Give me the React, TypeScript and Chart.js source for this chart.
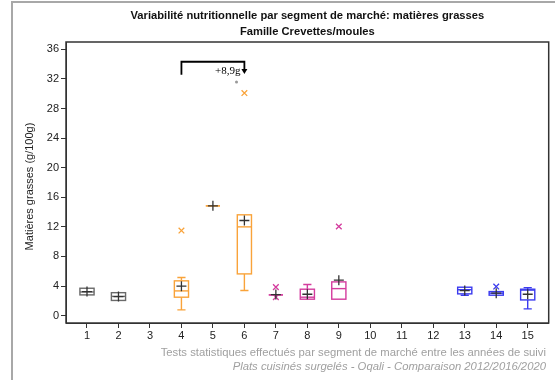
import React, { useEffect, useRef } from "react";
import { Chart, registerables } from "chart.js";

Chart.register(...registerables);

// ---- data ----
const tickCategories = [1, 2, 3, 4, 5, 6, 7, 8, 9, 10, 11, 12, 13, 14, 15];
const yTicks = [0, 4, 8, 12, 16, 20, 24, 28, 32, 36];

const boxCategories = [1, 2, 4, 5, 6, 7, 8, 9, 13, 14, 15];
const boxQ1 = [2.8, 2.05, 2.49, 14.84, 5.64, 2.8, 2.22, 2.22, 2.94, 2.76, 2.12];
const boxMedian = [3.2, 2.6, 3.34, 14.84, 12.0, 2.8, 2.49, 3.65, 3.5, 3.03, 3.45];
const boxQ3 = [3.7, 3.1, 4.7, 14.84, 13.63, 2.8, 3.57, 4.56, 3.84, 3.25, 3.57];
const whiskerLow = [2.8, 2.05, 0.77, 14.84, 3.39, 2.8, 2.22, 2.22, 2.76, 2.76, 0.91];
const whiskerHigh = [3.7, 3.1, 5.15, 14.84, 13.63, 2.8, 4.2, 4.56, 3.84, 3.25, 3.79];
const boxMeans = [3.25, 2.57, 3.98, 14.84, 12.86, 2.85, 2.89, 4.79, 3.39, 3.03, 2.89];
const boxGroup = [0, 0, 1, 1, 1, 2, 2, 2, 3, 3, 3];

const outlierCategories = [4, 6, 7, 7, 9, 14];
const outlierValues = [11.5, 30.1, 3.85, 2.5, 12.05, 3.93];
const outlierGroup = [1, 1, 2, 2, 2, 3];

const groupColors = ["#6a6a6a", "#F9A33A", "#D43C9E", "#3B3BEF"];

const bracketFrom = 4;
const bracketTo = 6;
const bracketTop = 34.33;
const bracketLeftEnd = 32.57;
const bracketRightEnd = 32.67;
const bracketLabel = "+8,9g";
const dotCategory = [5.75];
const dotValue = [31.58];

const titleLines = [
  "Variabilité nutritionnelle par segment de marché: matières grasses",
  "Famille Crevettes/moules",
];
const yTitle = "Matières grasses (g/100g)";
const footerLines = [
  "Tests statistiques effectués par segment de marché entre les années de suivi",
  "Plats cuisinés surgelés - Oqali - Comparaison 2012/2016/2020",
];

const BOX_W = 0.45;
const CAP_W = 0.26;
const FONT = '"Liberation Sans", Arial, sans-serif';

const drawPlugin = {
  id: "boxesAndText",
  beforeDraw(chart: any) {
    const ctx = chart.ctx;
    ctx.save();
    ctx.fillStyle = "#ffffff";
    ctx.fillRect(0, 0, chart.width, chart.height);
    // outer frame
    ctx.fillStyle = "#a8a8a8";
    ctx.fillRect(11, 1, 2, chart.height);
    ctx.fillRect(11, 1, chart.width, 2);
    ctx.restore();
  },
  beforeDatasetsDraw(chart: any) {
    const { ctx, chartArea } = chart;
    const x = chart.scales.x;
    const y = chart.scales.y;
    ctx.save();
    ctx.lineWidth = 1.4;
    for (let i = 0; i < boxCategories.length; i++) {
      const c = boxCategories[i];
      const col = groupColors[boxGroup[i]];
      const cx = x.getPixelForValue(c);
      const l = x.getPixelForValue(c - BOX_W / 2);
      const r = x.getPixelForValue(c + BOX_W / 2);
      const cl = x.getPixelForValue(c - CAP_W / 2);
      const cr = x.getPixelForValue(c + CAP_W / 2);
      const pq1 = y.getPixelForValue(boxQ1[i]);
      const pq3 = y.getPixelForValue(boxQ3[i]);
      const pm = y.getPixelForValue(boxMedian[i]);
      const pwl = y.getPixelForValue(whiskerLow[i]);
      const pwh = y.getPixelForValue(whiskerHigh[i]);
      ctx.strokeStyle = col;
      ctx.beginPath();
      if (whiskerHigh[i] > boxQ3[i]) {
        ctx.moveTo(cx, pq3);
        ctx.lineTo(cx, pwh);
        ctx.moveTo(cl, pwh);
        ctx.lineTo(cr, pwh);
      }
      if (whiskerLow[i] < boxQ1[i]) {
        ctx.moveTo(cx, pq1);
        ctx.lineTo(cx, pwl);
        ctx.moveTo(cl, pwl);
        ctx.lineTo(cr, pwl);
      }
      ctx.stroke();
      ctx.strokeRect(l, pq3, r - l, pq1 - pq3);
      ctx.beginPath();
      ctx.moveTo(l, pm);
      ctx.lineTo(r, pm);
      ctx.stroke();
    }
    // bracket annotation
    const bx1 = x.getPixelForValue(bracketFrom);
    const bx2 = x.getPixelForValue(bracketTo);
    const bt = y.getPixelForValue(bracketTop);
    const bl = y.getPixelForValue(bracketLeftEnd);
    const br = y.getPixelForValue(bracketRightEnd);
    ctx.strokeStyle = "#000";
    ctx.lineWidth = 1.8;
    ctx.beginPath();
    ctx.moveTo(bx1, bl);
    ctx.lineTo(bx1, bt);
    ctx.lineTo(bx2, bt);
    ctx.lineTo(bx2, br - 4);
    ctx.stroke();
    ctx.fillStyle = "#000";
    ctx.beginPath();
    ctx.moveTo(bx2 - 3, br - 5);
    ctx.lineTo(bx2 + 3, br - 5);
    ctx.lineTo(bx2, br);
    ctx.closePath();
    ctx.fill();
    ctx.font = '11px "Liberation Serif", "DejaVu Serif", serif';
    ctx.textAlign = "right";
    ctx.textBaseline = "middle";
    ctx.fillStyle = "#000";
    ctx.fillText(bracketLabel, bx2 - 4, br - 3);
    // plot frame
    ctx.strokeStyle = "#333";
    ctx.lineWidth = 1.5;
    ctx.strokeRect(chartArea.left, chartArea.top, chartArea.right - chartArea.left, chartArea.bottom - chartArea.top);
    ctx.restore();
  },
  afterDraw(chart: any) {
    const { ctx, chartArea } = chart;
    ctx.save();
    const cxm = (chartArea.left + chartArea.right) / 2;
    ctx.fillStyle = "#111";
    ctx.textAlign = "center";
    ctx.textBaseline = "middle";
    ctx.font = `bold 11.2px ${FONT}`;
    ctx.fillText(titleLines[0], cxm, 16);
    ctx.fillText(titleLines[1], cxm, 32);
    // y title
    ctx.save();
    ctx.translate(30, (chartArea.top + chartArea.bottom) / 2 + 4);
    ctx.rotate(-Math.PI / 2);
    ctx.font = `11px ${FONT}`;
    ctx.fillStyle = "#222";
    ctx.fillText(yTitle, 0, 0);
    ctx.restore();
    // footer
    ctx.textAlign = "right";
    ctx.fillStyle = "#a0a0a0";
    ctx.font = `11.3px ${FONT}`;
    ctx.fillText(footerLines[0], 546, 353);
    ctx.font = `italic 11.3px ${FONT}`;
    ctx.fillText(footerLines[1], 546, 367);
    ctx.restore();
  },
};

export default function App() {
  const ref = useRef<HTMLCanvasElement>(null);
  useEffect(() => {
    document.body.style.margin = "0";
    const canvas = ref.current!;
    const chart = new Chart(canvas, {
      type: "scatter",
      data: {
        datasets: [
          {
            label: "moyenne",
            data: boxCategories.map((c, i) => ({ x: c, y: boxMeans[i] })),
            pointStyle: "cross",
            pointRadius: 5,
            pointBorderColor: "#333",
            pointBorderWidth: 1.3,
            showLine: false,
          },
          {
            label: "outliers",
            data: outlierCategories.map((c, i) => ({ x: c, y: outlierValues[i] })),
            pointStyle: "crossRot",
            pointRadius: 4,
            pointBorderColor: outlierGroup.map((g) => groupColors[g]),
            pointBorderWidth: 1.3,
            showLine: false,
          },
          {
            label: "dot",
            data: dotCategory.map((c, i) => ({ x: c, y: dotValue[i] })),
            pointStyle: "circle",
            pointRadius: 1.5,
            pointBackgroundColor: "#999",
            pointBorderColor: "#999",
            pointBorderWidth: 0,
          },
        ],
      },
      options: {
        responsive: false,
        animation: false,
        devicePixelRatio: 1,
        layout: { padding: { left: 0, top: 42, right: 6, bottom: 0 } },
        plugins: {
          legend: { display: false },
          tooltip: { enabled: false },
          title: { display: false },
        },
        scales: {
          x: {
            type: "linear",
            min: 0.333,
            max: 15.667,
            afterBuildTicks: (s: any) => {
              s.ticks = tickCategories.map((v) => ({ value: v }));
            },
            afterFit: (s: any) => {
              s.height = 57;
            },
            ticks: {
              autoSkip: false,
              maxRotation: 0,
              padding: 1,
              color: "#222",
              font: { family: FONT, size: 11 },
              callback: (v: any) => String(v),
            },
            grid: { drawOnChartArea: false, drawTicks: true, tickLength: 5, color: "#333" },
            border: { display: true, color: "#333" },
          },
          y: {
            type: "linear",
            min: -1,
            max: 37,
            afterBuildTicks: (s: any) => {
              s.ticks = yTicks.map((v) => ({ value: v }));
            },
            afterFit: (s: any) => {
              s.width = 66;
            },
            ticks: {
              padding: 2,
              color: "#222",
              font: { family: FONT, size: 11 },
              callback: (v: any) => String(v),
            },
            grid: { drawOnChartArea: false, drawTicks: true, tickLength: 5, color: "#333" },
            border: { display: true, color: "#333" },
          },
        },
      },
      plugins: [drawPlugin],
    });
    return () => chart.destroy();
  }, []);
  return (
    <div style={{ position: "absolute", left: 0, top: 0, width: 555, height: 380 }}>
      <canvas ref={ref} width={555} height={380} style={{ width: 555, height: 380 }} />
    </div>
  );
}
